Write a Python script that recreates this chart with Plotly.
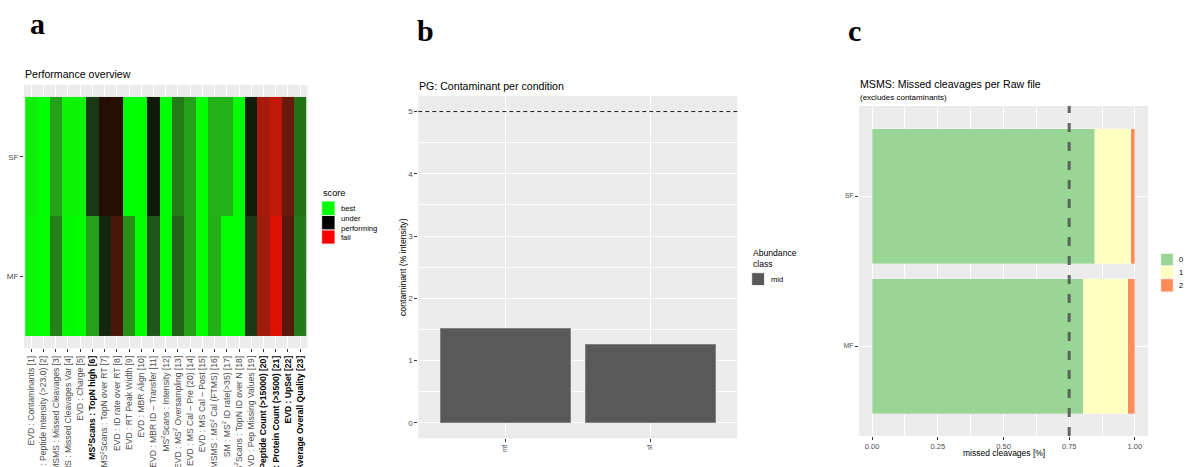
import numpy as np
import plotly.graph_objects as go

W, H = 1187, 467

# ---------------- data ----------------
metrics = [
    "EVD : Contaminants [1]",
    "EVD : Peptide Intensity (>23.0) [2]",
    "MSMS : Missed Cleavages [3]",
    "MSMS : Missed Cleavages Var [4]",
    "EVD : Charge [5]",
    "<b><span style='color:#000'>MS<sup>2</sup>Scans : TopN high [6]</span></b>",
    "MS<sup>2</sup>Scans : TopN over RT [7]",
    "EVD : ID rate over RT [8]",
    "EVD : RT Peak Width [9]",
    "EVD : MBR Align [10]",
    "EVD : MBR ID – Transfer [11]",
    "MS<sup>2</sup>Scans : Intensity [12]",
    "EVD : MS<sup>2</sup> Oversampling [13]",
    "EVD : MS Cal – Pre (20) [14]",
    "EVD : MS Cal – Post [15]",
    "MSMS : MS<sup>2</sup> Cal (FTMS) [16]",
    "SM : MS<sup>2</sup> ID rate(>35) [17]",
    "MS<sup>2</sup>Scans : TopN ID over N [18]",
    "EVD : Pep Missing Values [19]",
    "<b><span style='color:#000'>EVD : Peptide Count (>15000) [20]</span></b>",
    "<b><span style='color:#000'>EVD : Protein Count (>3500) [21]</span></b>",
    "<b><span style='color:#000'>EVD : UpSet [22]</span></b>",
    "<b><span style='color:#000'>Average Overall Quality [23]</span></b>",
]
raw_files = ["MF", "SF"]
score_sf = [0.97, 1.0, 0.83, 0.98, 0.98, 0.62, 0.44, 0.43, 1.0, 1.0, 0.545, 1.0,
            0.76, 0.83, 1.0, 0.86, 0.86, 1.0, 0.55, 0.16, 0.115, 0.284, 0.735]
score_mf = [0.98, 1.0, 0.767, 0.99, 1.0, 0.828, 0.575, 0.35, 0.80, 1.0, 0.684, 1.0,
            0.705, 0.828, 1.0, 0.858, 1.0, 1.0, 0.62, 0.176, 0.06, 0.318, 0.756]
score_labels = ["best", "under<br>performing", "fail"]

conditions = ["mf", "sf"]
contaminant_pct = [1.52, 1.26]
contaminant_threshold = 5
abundance_class = "mid"

mc_files = ["MF", "SF"]
mc_0 = [0.804, 0.848]
mc_1 = [0.168, 0.136]
mc_2 = [0.028, 0.016]
mc_labels = ["0", "1", "2"]
mc_threshold = 0.75

# ---------------- colour scale (Lab interpolation like ggplot) ----------------
M = np.array([[0.4124, 0.3576, 0.1805], [0.2126, 0.7152, 0.0722], [0.0193, 0.1192, 0.9505]])
Minv = np.linalg.inv(M)
WP = np.array([0.95047, 1.0, 1.08883])


def _f(t):
    return np.where(t > (6 / 29) ** 3, np.cbrt(t), t / (3 * (6 / 29) ** 2) + 4 / 29)


def _finv(t):
    return np.where(t > 6 / 29, t ** 3, 3 * (6 / 29) ** 2 * (t - 4 / 29))


def rgb2lab(rgb):
    c = np.asarray(rgb, float) / 255
    lin = np.where(c <= 0.04045, c / 12.92, ((c + 0.055) / 1.055) ** 2.4)
    xyz = M @ lin / WP
    fx, fy, fz = _f(xyz)
    return np.array([116 * fy - 16, 500 * (fx - fy), 200 * (fy - fz)])


def lab2rgb(lab):
    L, a, b = lab
    fy = (L + 16) / 116
    xyz = _finv(np.array([fy + a / 500, fy, fy - b / 200])) * WP
    lin = np.clip(Minv @ xyz, 0, 1)
    s = np.where(lin <= 0.0031308, 12.92 * lin, 1.055 * lin ** (1 / 2.4) - 0.055)
    r, g, bb = (np.clip(s, 0, 1) * 255).round().astype(int)
    return f"rgb({r},{g},{bb})"


anchors = [(0.0, rgb2lab([255, 0, 0])), (0.5, rgb2lab([0, 0, 0])), (1.0, rgb2lab([0, 255, 0]))]
colorscale = []
for s in np.linspace(0, 1, 41):
    if s <= 0.5:
        t = s / 0.5
        lab = anchors[0][1] * (1 - t) + anchors[1][1] * t
    else:
        t = (s - 0.5) / 0.5
        lab = anchors[1][1] * (1 - t) + anchors[2][1] * t
    colorscale.append([float(s), lab2rgb(lab)])


def X(px):
    return px / W


def Y(py):
    return 1 - py / H


FONT = "Liberation Sans, Arial, sans-serif"
SERIF = "Liberation Serif, Times New Roman, serif"
TICKC = "#4d4d4d"
BG = "#EBEBEB"

fig = go.Figure()

# ---------------- panel a: heatmap ----------------
fig.add_trace(go.Heatmap(
    x=list(range(len(metrics))), y=raw_files, z=[score_mf, score_sf],
    zmin=0, zmax=1, colorscale=colorscale, showscale=False,
    xaxis="x", yaxis="y", hoverinfo="skip"))

# ---------------- panel b: bars ----------------
fig.add_trace(go.Bar(
    x=conditions, y=contaminant_pct, marker=dict(color="#595959", line=dict(color="#8c8c8c", width=0.8)),
    xaxis="x2", yaxis="y2", showlegend=False, name=abundance_class))

# ---------------- panel c: stacked horizontal bars ----------------
mc_colors = ["#99d594", "#ffffbf", "#fc8d59"]
for vals, lab, col in zip([mc_0, mc_1, mc_2], mc_labels, mc_colors):
    fig.add_trace(go.Bar(
        y=mc_files, x=vals, orientation="h", name=lab,
        marker=dict(color=col, line=dict(color="rgba(255,255,255,0.6)", width=0.5)),
        xaxis="x3", yaxis="y3", showlegend=False))

tickfont_small = dict(family=FONT, size=8, color=TICKC)
common_ax = dict(showline=False, zeroline=False, automargin=False, ticks="outside", ticklen=3,
                 tickcolor="#333333", tickwidth=1, showgrid=True, gridcolor="white", gridwidth=1)

fig.update_layout(
    template="none",
    width=W, height=H, autosize=False,
    margin=dict(l=0, r=0, t=0, b=0),
    paper_bgcolor="white", plot_bgcolor=BG,
    barmode="stack", bargap=0.1,
    font=dict(family=FONT, color="black"),
    xaxis=dict(domain=[X(24), X(307.5)], anchor="y", range=[-0.6, len(metrics) - 0.4],
               tickvals=list(range(len(metrics))), ticktext=metrics, tickangle=-90,
               tickfont=dict(family=FONT, size=8.6, color=TICKC), **common_ax),
    yaxis=dict(domain=[Y(348.3), Y(85)], anchor="x", type="category", range=[-0.6, 1.6],
               tickfont=tickfont_small, **common_ax),
    xaxis2=dict(domain=[X(418.3), X(737.3)], anchor="y2", type="category", range=[-0.6, 1.6],
                tickangle=-90, tickfont=dict(family=FONT, size=6.5, color=TICKC), **common_ax),
    yaxis2=dict(domain=[Y(438.3), Y(96)], anchor="x2", range=[-0.25, 5.25], dtick=1,
                tickfont=tickfont_small,
                minor=dict(dtick=0.5, showgrid=True, gridcolor="white", gridwidth=0.5), **common_ax),
    xaxis3=dict(domain=[X(859), X(1148)], anchor="y3", range=[-0.05, 1.05],
                tickvals=[0, 0.25, 0.5, 0.75, 1.0], ticktext=["0.00", "0.25", "0.50", "0.75", "1.00"],
                tickfont=dict(family=FONT, size=7.5, color=TICKC),
                minor=dict(dtick=0.125, showgrid=True, gridcolor="white", gridwidth=0.5), **common_ax),
    yaxis3=dict(domain=[Y(436), Y(106)], anchor="x3", type="category", range=[-0.6, 1.6],
                tickfont=dict(family=FONT, size=7, color=TICKC), **common_ax),
)

shapes = []
# threshold lines
shapes.append(dict(type="line", xref="x2 domain", x0=0, x1=1, yref="y2",
                   y0=contaminant_threshold, y1=contaminant_threshold,
                   line=dict(color="black", width=0.9, dash="4px,3px"), layer="above"))
shapes.append(dict(type="line", xref="x3", x0=mc_threshold, x1=mc_threshold, yref="y3 domain",
                   y0=0, y1=1, line=dict(color="rgba(85,85,85,0.9)", width=3, dash="9px,10px"),
                   layer="above"))


def key(x0, y0, x1, y1, color, border="white"):
    shapes.append(dict(type="rect", xref="paper", yref="paper", x0=X(x0), x1=X(x1), y0=Y(y1), y1=Y(y0),
                       fillcolor=color, line=dict(color=border, width=0.8), layer="above"))


annotations = []


def text(px, py, s, size, xanchor="left", yanchor="middle", family=FONT, color="black", angle=0):
    annotations.append(dict(x=X(px), y=Y(py), xref="paper", yref="paper", text=s, showarrow=False,
                            xanchor=xanchor, yanchor=yanchor, textangle=angle, align="left",
                            font=dict(family=family, size=size, color=color)))


# panel letters
text(37, 24, "<b>a</b>", 30, xanchor="center", family=SERIF)
text(425, 30, "<b>b</b>", 30, xanchor="center", family=SERIF)
text(854, 30, "<b>c</b>", 30, xanchor="center", family=SERIF)

# titles
text(23, 74.5, "Performance overview", 10.6)
text(417, 86, "PG: Contaminant per condition", 10.6)
text(858, 84, "MSMS: Missed cleavages per Raw file", 10.6)
text(858, 97.5, "(excludes contaminants)", 8)

# axis titles
text(403, 267, "contaminant (% intensity)", 8.7, xanchor="center", angle=-90)
text(1003.5, 452.5, "missed cleavages [%]", 8.5, xanchor="center")

# legend a: score
text(321, 192.5, "score", 9.2)
leg_a_colors = ["#00FF00", "#000000", "#FF0000"]
ys = [(201, 215.5), (215.5, 230), (230, 244)]
for (y0, y1), c in zip(ys, leg_a_colors):
    key(321.7, y0, 335, y1, c)
text(339, 208.5, score_labels[0], 7.6)
text(339, 223.5, score_labels[1], 7.6)
text(339, 238, score_labels[2], 7.6)

# legend b: abundance class
text(750.5, 258, "Abundance<br>class", 8.6)
key(751.7, 272.7, 764.5, 285.5, "#595959")
text(768.5, 279, abundance_class, 7.6)

# legend c
ys_c = [(253.3, 266), (266, 278.7), (278.7, 292)]
for (y0, y1), c, lab in zip(ys_c, mc_colors, mc_labels):
    key(1160.7, y0, 1173.3, y1, c)
    text(1176.5, (y0 + y1) / 2, lab, 7.6)

fig.update_layout(shapes=shapes, annotations=annotations)
fig.write_html("out.html")
